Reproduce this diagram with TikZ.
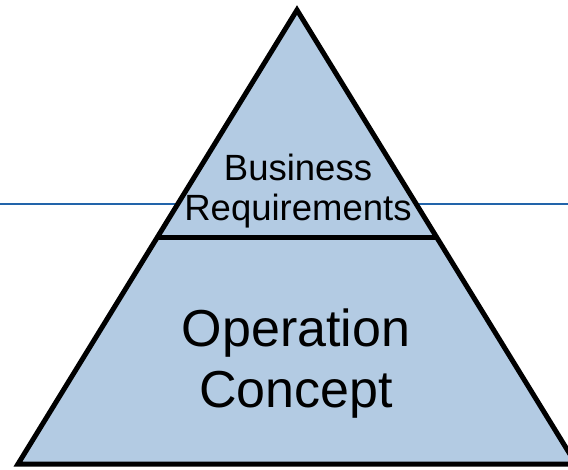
\documentclass[tikz,border=0pt]{standalone}
\usepackage{fontspec}
\setmainfont{Liberation Sans}
\usepackage{tkz-euclide}
\usetikzlibrary{calc}
\usetikzlibrary{positioning}
\definecolor{pyrfill}{RGB}{179,203,227}
\definecolor{axisblue}{RGB}{34,100,170}
\tikzset{
  pyrtext/.style={inner sep=0pt, align=center, text=black},
  pyredge/.style={line width=5pt, line join=miter, draw=black}
}

\begin{document}
\begin{tikzpicture}[x=1pt, y=-1pt]
      \useasboundingbox (0,0) rectangle (568,470);
      \clip (0,0) rectangle (568,470);
      \tkzDefPoints{297/10/A, 18/464/L, 576/464/R, 0/204/U, 568/204/V}
      \coordinate (P) at ($(A)!0.5022!(L)$);
      \coordinate (Q) at ($(A)!0.5022!(R)$);

      % horizontal rule behind the pyramid
      \draw[axisblue, line width=1.8pt] (U) -- (V);

      \filldraw[pyredge, fill=pyrfill] (A) -- (L) -- (R) -- cycle;
      \draw[pyredge] (P) -- (Q);

      \node[pyrtext, font=\fontsize{36.5}{40}\selectfont] (biz) at (298,191) {Business\\Requirements};
      \node[pyrtext, font=\fontsize{52}{61}\selectfont] (ops) at (296,364) {Operation\\Concept};
    \end{tikzpicture}
\end{document}
